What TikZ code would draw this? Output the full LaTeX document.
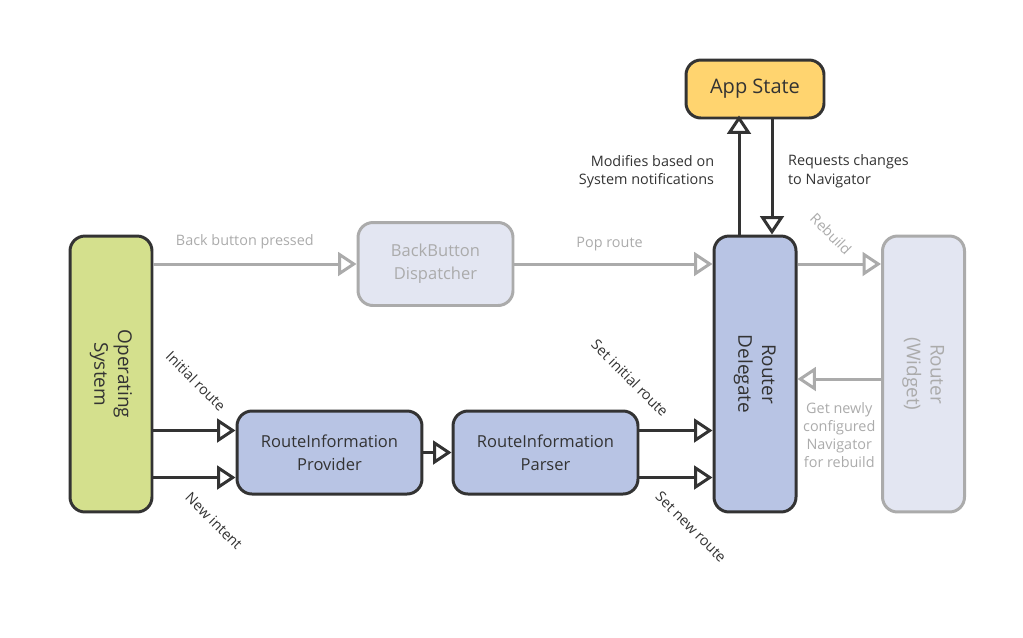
\documentclass[tikz,border=0pt]{standalone}
\usepackage{fontspec}
\setmainfont{Open Sans}
\usetikzlibrary{arrows.meta,calc}

\definecolor{ink}{HTML}{333333}
\definecolor{pale}{HTML}{ABABAB}
\definecolor{osgreen}{HTML}{D4E08D}
\definecolor{navblue}{HTML}{B8C4E4}
\definecolor{faint}{HTML}{E3E6F2}
\definecolor{stategold}{HTML}{FFD46F}

\tikzset{
  box/.style={draw=ink, line width=1.7pt, rounded corners=8.5pt, text=ink, align=center,
    font=\fontsize{9.4}{13.2}\selectfont},
  tall/.style={box, minimum width=1.64cm, minimum height=5.52cm, font=\fontsize{10.8}{13.5}\selectfont},
  wide/.style={box, minimum width=3.7cm, minimum height=1.66cm},
  faded/.style={draw=pale, text=pale, fill=faint},
  arr/.style={draw=ink, line width=1.7pt, -{Triangle[open, length=10.5pt, width=13.5pt]}},
  farr/.style={arr, draw=pale},
  lbl/.style={text=ink, font=\fontsize{8.2}{10.4}\selectfont, align=center},
  flbl/.style={lbl, text=pale},
}

\begin{document}
\begin{tikzpicture}[x=0.02cm, y=-0.02cm]
  \useasboundingbox (0,0) rectangle (1023,637);

  % boxes
  \node[tall, fill=osgreen] (os) at (111,374)
    {\rotatebox{-90}{\begin{tabular}{@{}c@{}}Operating\\System\end{tabular}}};
  \node[box, faded, minimum width=3.1cm, minimum height=1.66cm] (bbd) at (435.5,264) {BackButton\\Dispatcher};
  \node[box, fill=stategold, minimum width=2.76cm, minimum height=1.16cm,
    font=\fontsize{11.4}{13}\selectfont] (appstate) at (755,89) {\raisebox{-1.5pt}{App State}};
  \node[tall, fill=navblue] (delegate) at (755,374)
    {\rotatebox{-90}{\begin{tabular}{@{}c@{}}Router\\Delegate\end{tabular}}};
  \node[tall, faded] (router) at (923.5,374)
    {\rotatebox{-90}{\begin{tabular}{@{}c@{}}Router\\(Widget)\end{tabular}}};
  \node[wide, fill=navblue] (provider) at (329.5,452.5) {RouteInformation\\Provider};
  \node[wide, fill=navblue] (parser) at (545.5,452.5) {RouteInformation\\Parser};

  % faded flow
  \draw[farr] (os.east |- bbd.west) -- (bbd.west) node[flbl, pos=0.45, above=4.5pt]{Back button pressed};
  \draw[farr] (bbd.east) -- (delegate.west |- bbd.east) node[flbl, pos=0.48, above=3pt]{Pop route};
  \draw[farr] (delegate.east |- bbd.east) -- (router.west |- bbd.east);
  \node[flbl, rotate=-45] (rebuild) at (831,234) {Rebuild};
  \coordinate (back) at ($(router.west)+(0,5)$);
  \draw[farr] (back) -- (delegate.east |- back)
    node[flbl, midway, below=9pt]{Get newly\\configured\\Navigator\\for rebuild};

  % app state
  \draw[arr] ($(delegate.north)+(-16,0)$) -- ($(appstate.south)+(-16,-4)$)
    node[lbl, pos=0.53, left=10pt, align=right]{Modifies based on\\System notifications};
  \draw[arr] ($(appstate.south)+(17,0)$) -- ($(delegate.north)+(17,0)$)
    node[lbl, pos=0.45, right=5pt, align=left]{Requests changes\\to Navigator};

  % route information
  \coordinate (pin) at ($(provider.west)+(0,-22)$);
  \coordinate (pnew) at ($(provider.west)+(0,25)$);
  \draw[arr] (os.east |- pin) -- (pin);
  \draw[arr] (os.east |- pnew) -- (pnew);
  \node[lbl, rotate=-45] (initial) at (196,381) {Initial route};
  \node[lbl, rotate=-45] (intent) at (214,521) {New intent};
  \draw[arr] (provider.east) -- (parser.west);
  \coordinate (rin) at ($(parser.east)+(0,-22)$);
  \coordinate (rnew) at ($(parser.east)+(0,25)$);
  \draw[arr] (rin) -- (delegate.west |- rin);
  \draw[arr] (rnew) -- (delegate.west |- rnew);
  \node[lbl, rotate=-45] (setinit) at (630,378) {Set initial route};
  \node[lbl, rotate=-45] (setnew) at (691,527) {Set new route};
\end{tikzpicture}
\end{document}
